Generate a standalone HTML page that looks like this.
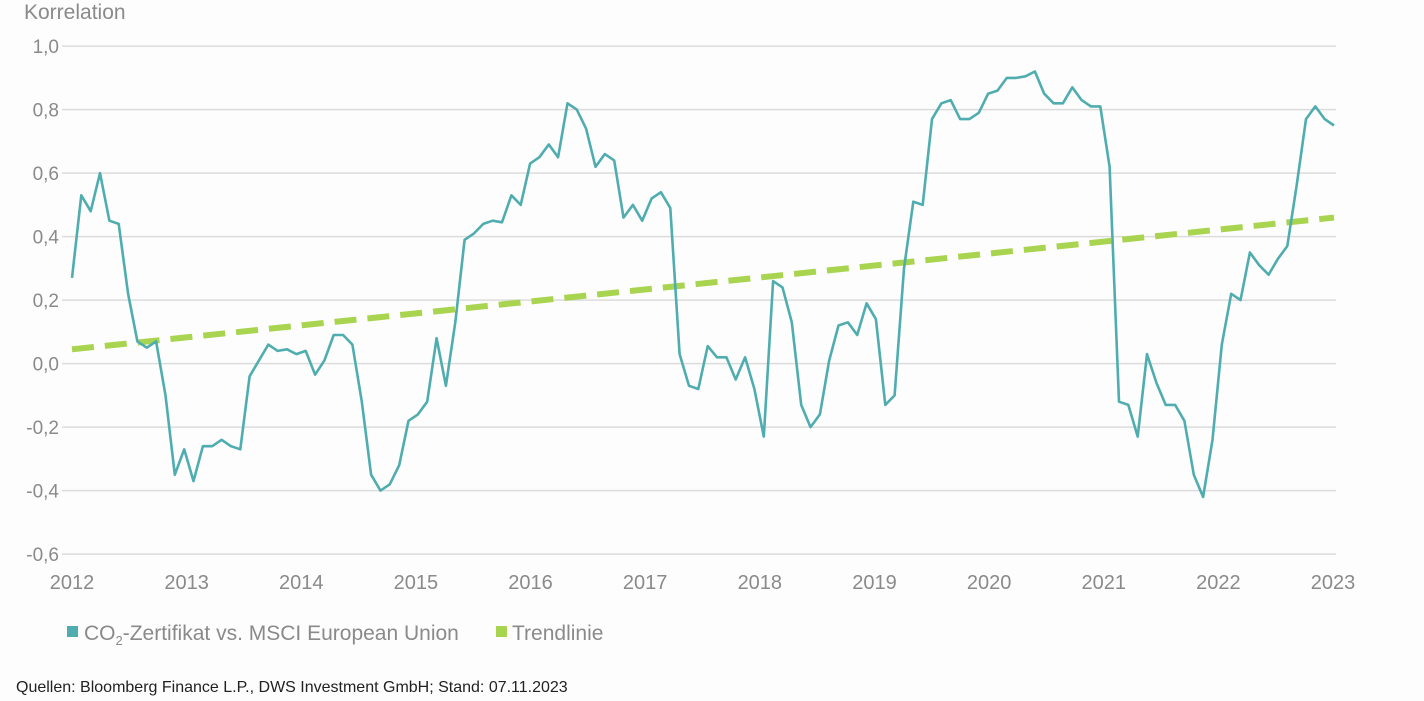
<!DOCTYPE html>
<html><head><meta charset="utf-8"><style>
body{margin:0;background:#fdfdfd;font-family:"Liberation Sans",sans-serif;}
svg{display:block}
</style></head><body>
<svg id="chart" width="1424" height="701">
<text x="24" y="19" font-size="21" fill="#8a8a8a">Korrelation</text>
<g id="grid"></g><g id="ylabels"></g><g id="xlabels"></g><g id="series"></g>
<g>
<rect x="67" y="626" width="11" height="11" fill="#4fadb0"/>
<text x="84" y="640" font-size="21" fill="#8a8a8a">CO<tspan font-size="13" dy="5">2</tspan><tspan dy="-5">-Zertifikat vs. MSCI European Union</tspan></text>
<rect x="496" y="626" width="11" height="11" fill="#a8d44f"/>
<text x="512" y="640" font-size="21" fill="#8a8a8a">Trendlinie</text>
</g>
<text x="16" y="692" font-size="16" fill="#222">Quellen: Bloomberg Finance L.P., DWS Investment GmbH; Stand: 07.11.2023</text>
</svg>
<script>
const yTicks=[1.0,0.8,0.6,0.4,0.2,0.0,-0.2,-0.4,-0.6];
const yTickLabels=["1,0","0,8","0,6","0,4","0,2","0,0","-0,2","-0,4","-0,6"];
const years=[2012,2013,2014,2015,2016,2017,2018,2019,2020,2021,2022,2023];
const correlation=[0.27,0.53,0.48,0.6,0.45,0.44,0.22,0.07,0.05,0.07,
-0.1,-0.35,-0.27,-0.37,-0.26,-0.26,-0.24,-0.26,-0.27,-0.04,
0.01,0.06,0.04,0.045,0.03,0.04,-0.035,0.01,0.09,0.09,
0.06,-0.12,-0.35,-0.4,-0.38,-0.32,-0.18,-0.16,-0.12,0.08,
-0.07,0.13,0.39,0.41,0.44,0.45,0.445,0.53,0.5,0.63,
0.65,0.69,0.65,0.82,0.8,0.74,0.62,0.66,0.64,0.46,
0.5,0.45,0.52,0.54,0.49,0.03,-0.07,-0.08,0.055,0.02,
0.02,-0.05,0.02,-0.08,-0.23,0.26,0.24,0.13,-0.13,-0.2,
-0.16,0.01,0.12,0.13,0.09,0.19,0.14,-0.13,-0.1,0.3,
0.51,0.5,0.77,0.82,0.83,0.77,0.77,0.79,0.85,0.86,
0.9,0.9,0.905,0.92,0.85,0.82,0.82,0.87,0.83,0.81,
0.81,0.62,-0.12,-0.13,-0.23,0.03,-0.06,-0.13,-0.13,-0.18,
-0.35,-0.42,-0.24,0.06,0.22,0.2,0.35,0.31,0.28,0.33,
0.37,0.56,0.77,0.81,0.77,0.75];
const trendStart=0.045, trendEnd=0.46;
const NS="http://www.w3.org/2000/svg";
const y=v=>363.6-v*317.5;
const xYear=yr=>72+(yr-2012)*(1333-72)/11;
const xIdx=i=>72+i*(1334-72)/(correlation.length-1);
function mk(tag,attrs,parent){const e=document.createElementNS(NS,tag);for(const k in attrs)e.setAttribute(k,attrs[k]);document.getElementById(parent).appendChild(e);return e;}
yTicks.forEach((v,i)=>{
 const l=mk('line',{x1:62,x2:1336,y1:y(v),y2:y(v),stroke:'#dcdcdc','stroke-width':1.5},'grid');
 
 
 const t=mk('text',{x:59,y:y(v)+7,'text-anchor':'end','font-size':19,fill:'#8a8a8a'},'ylabels');
 t.textContent=yTickLabels[i];
 
 
});
years.forEach(yr=>{
 const t=mk('text',{x:xYear(yr),y:589,'text-anchor':'middle','font-size':20,fill:'#8a8a8a'},'xlabels');
 t.textContent=yr;
 
 
});
const tr=mk('line',{x1:xIdx(0),y1:y(trendStart),x2:xIdx(correlation.length-1),y2:y(trendEnd),stroke:'#a8d44f','stroke-width':6,'stroke-dasharray':'22 11'},'series');


const p=mk('polyline',{points:correlation.map((v,i)=>xIdx(i).toFixed(1)+','+y(v).toFixed(1)).join(' '),fill:'none',stroke:'#4fadb0','stroke-width':2.6,'stroke-linejoin':'round'},'series');


</script>
</body></html>
